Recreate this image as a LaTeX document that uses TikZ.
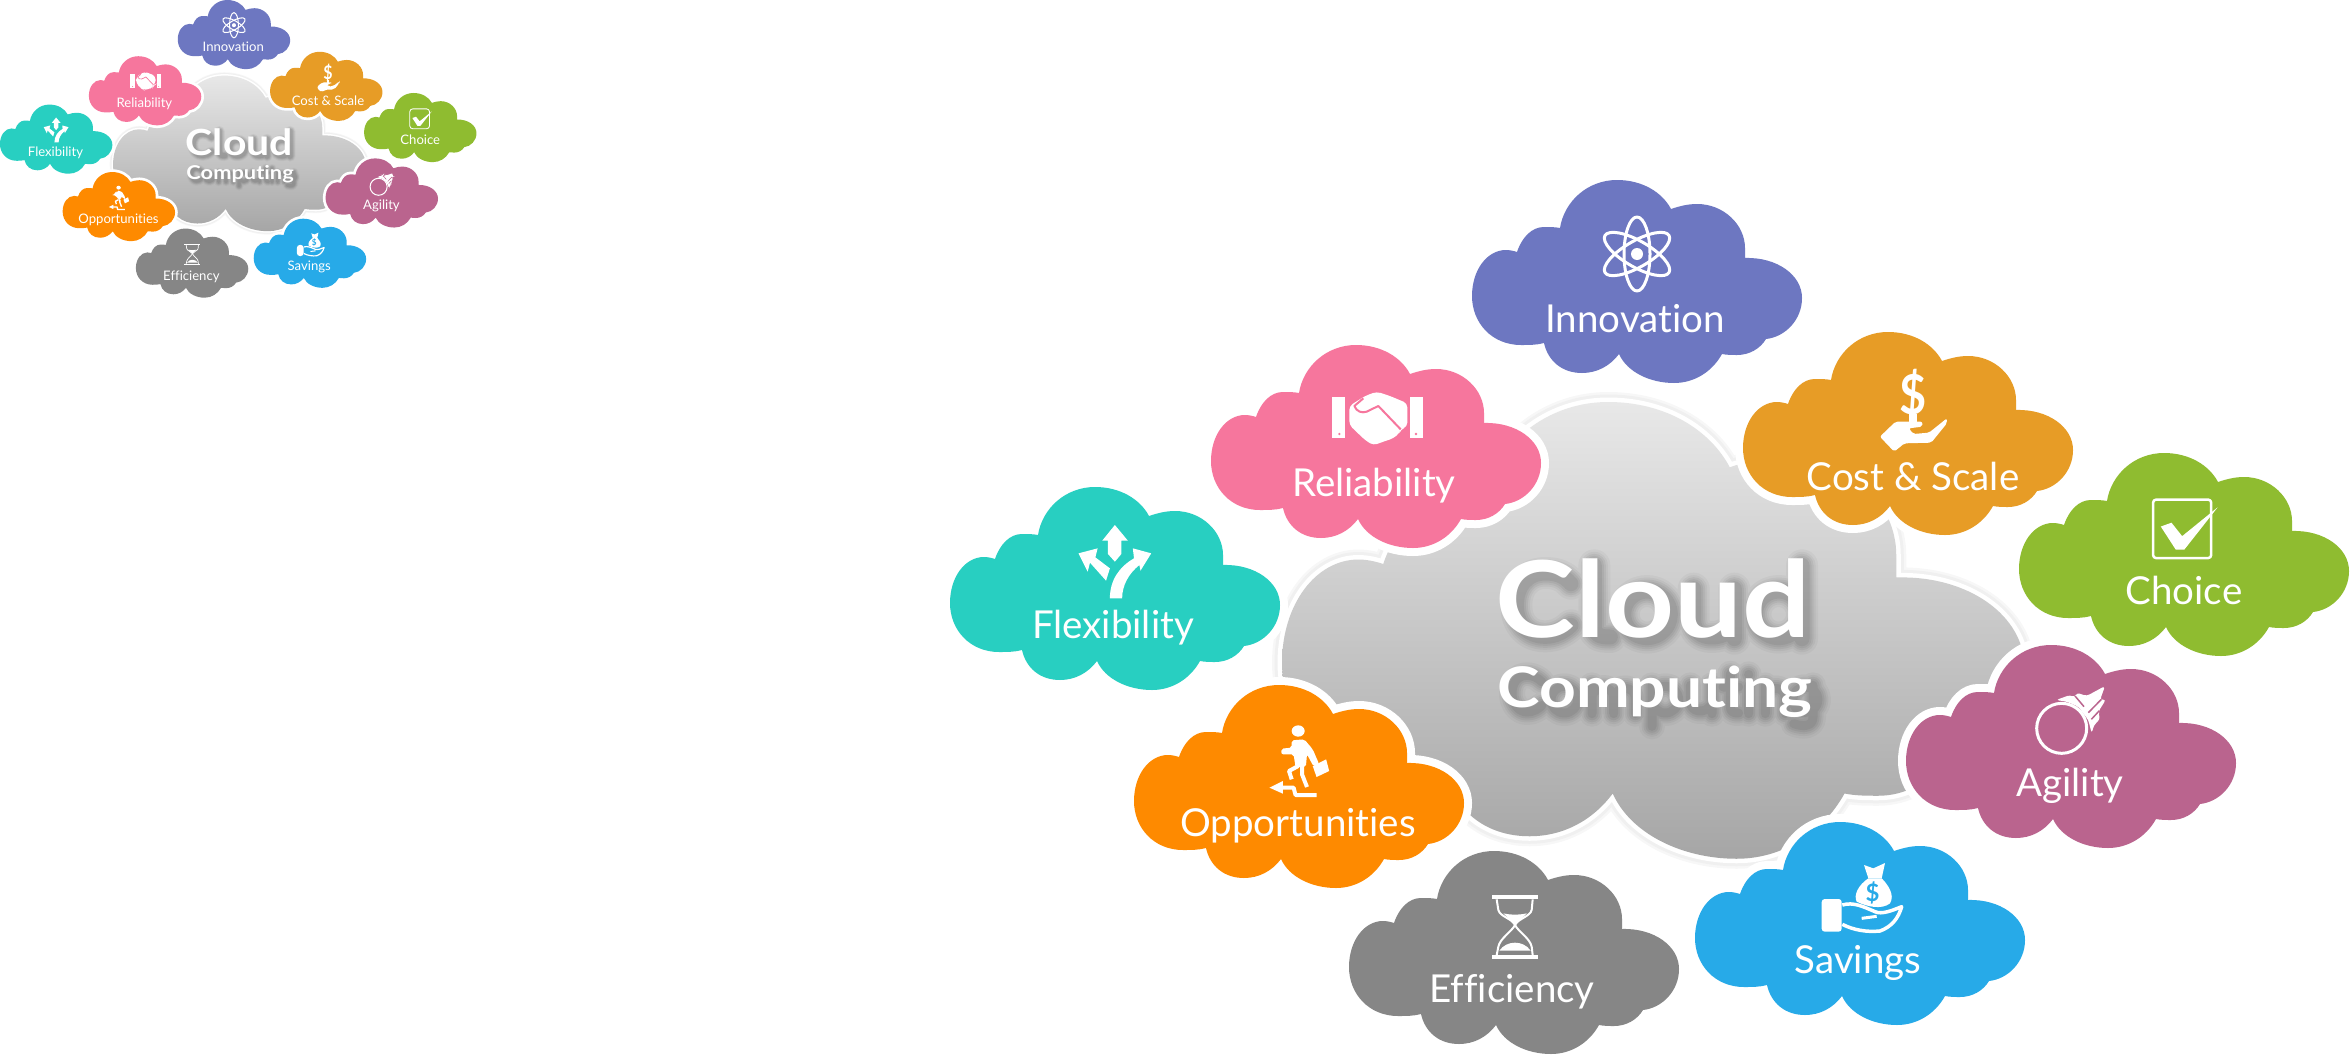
\documentclass[tikz,border=0pt]{standalone}
\usepackage{fontspec}
\setmainfont{Lato}[Ligatures=NoCommon]
\usetikzlibrary{shapes.geometric}
\definecolor{cinno}{HTML}{6D77C1}
\definecolor{creli}{HTML}{F6769D}
\definecolor{ccost}{HTML}{E79C26}
\definecolor{cchoi}{HTML}{8FBC30}
\definecolor{cagil}{HTML}{BA648E}
\definecolor{csave}{HTML}{27AAE8}
\definecolor{ceffi}{HTML}{868686}
\definecolor{coppo}{HTML}{FE8A00}
\definecolor{cflex}{HTML}{28CFC1}
\def\ds{1}
\def\pfx{b}
\tikzset{
  lw/.style={line width=(#1)*\ds*1pt},
  lbl/.style={text=white,anchor=base,inner sep=0pt,transform shape,font=\fontsize{38.5}{39}\selectfont},
  icon/.style={fill=white,draw=none},
  iconline/.style={draw=white,fill=none,lw=3,line join=round},
  ttl/.style={anchor=base,inner sep=0pt,transform shape,xscale=1.135,font=\bfseries\fontsize{106}{106}\selectfont},
  sub/.style={anchor=base,inner sep=0pt,transform shape,xscale=1.145,font=\bfseries\fontsize{56}{56}\selectfont},
}
% one outline, 330 x 203 units, used for every cloud
\def\cloudpath{(0,116) .. controls (0,90) and (15,70) .. (34,70) .. controls (38,70) and (42,71) .. (45,72)
 .. controls (50,57) and (60,47) .. (72,47) .. controls (78,47) and (83,47) .. (88,48)
 .. controls (92,22) and (115,0) .. (145,0) .. controls (170,0) and (190,12) .. (199,29)
 .. controls (208,26) and (216,24) .. (225,24) .. controls (252,24) and (273,45) .. (273,68) -- (273,78)
 .. controls (305,77) and (330,95) .. (330,118) .. controls (330,140) and (313,157) .. (294,159)
 .. controls (288,169) and (277,175) .. (265,175) .. controls (260,175) and (255,175) .. (250,174)
 .. controls (240,192) and (222,203) .. (202,203) .. controls (178,203) and (155,192) .. (147,174)
 .. controls (138,186) and (125,193) .. (110,193) .. controls (90,193) and (76,181) .. (72,163)
 .. controls (65,165) and (57,165) .. (49,165) .. controls (20,165) and (0,143) .. (0,116) -- cycle}
% soft shadow of the title, drawn as strokes
\def\shadecloud{(282,140) .. controls (260,115) and (235,108) .. (205,108) .. controls (150,108) and (118,150) .. (118,205) .. controls (118,260) and (150,298) .. (205,298) .. controls (235,298) and (260,285) .. (282,265)
 (352,85) -- (352,270) .. controls (352,295) and (370,300) .. (400,300)
 (510,232) circle [radius=70]
 (650,155) -- (650,250) .. controls (650,285) and (675,300) .. (705,300) .. controls (740,300) and (772,280) .. (772,250) (772,155) -- (772,305)
 (905,232) circle [radius=70] (975,85) -- (975,305)}
\def\shadecomp{(195,435) .. controls (180,420) and (165,415) .. (150,415) .. controls (120,415) and (105,440) .. (105,470) .. controls (105,500) and (125,525) .. (150,525) .. controls (170,525) and (185,515) .. (195,505)
 (262,488) circle [radius=40]
 (345,445) -- (345,530) (345,475) .. controls (355,450) and (405,440) .. (410,480) -- (410,530) (410,480) .. controls (420,445) and (475,445) .. (475,485) -- (475,530)
 (525,445) -- (525,568) (565,488) circle [radius=40]
 (640,445) -- (640,495) .. controls (640,525) and (685,535) .. (705,500) (705,445) -- (705,530)
 (760,410) -- (760,510) .. controls (760,525) and (770,528) .. (785,528) (738,450) -- (785,450)
 (815,445) -- (815,530) (815,412) -- (815,414)
 (865,445) -- (865,530) (865,480) .. controls (875,445) and (925,445) .. (925,485) -- (925,530)
 (985,488) circle [radius=38] (1008,445) -- (1008,540) .. controls (1008,565) and (985,572) .. (950,560)}
\newcommand{\onecloud}[8]{%
  \begin{scope}[shift={(#2,#3)}]
    \draw[white,lw=16,line join=round] \cloudpath;
    \fill[#4] \cloudpath;
    \node[lbl] (#1) at (#6,#7) {#5};
    #8
  \end{scope}}
\newcommand{\iconatom}{%
  \begin{scope}[shift={(165,74)}]
    \foreach \a in {90,30,150}{\draw[iconline,rotate=\a] (0,0) ellipse [x radius=37,y radius=13];}
    \fill[icon] (0,0) circle [radius=6];
  \end{scope}}
\newcommand{\iconhands}{%
  \begin{scope}[shift={(99,25)},scale=1/3]
    \fill[icon] (65,80) rectangle (105,205);
    \fill[icon] (300,80) rectangle (340,205);
    \fill[creli] (88,192) circle [radius=4];
    \fill[creli] (318,192) circle [radius=4];
    \fill[icon,rounded corners=4] (118,108) -- (165,78) -- (200,65) -- (240,78) -- (292,100) -- (292,170) -- (272,178) -- (268,190) -- (250,205) -- (220,215) -- (190,226) -- (165,210) -- (118,165) -- cycle;
    \draw[creli,lw=2,line join=round] (160,85) -- (133,108) .. controls (140,125) and (155,130) .. (170,125) -- (205,108) -- (272,178);
  \end{scope}}
\newcommand{\iconcost}{%
  \begin{scope}[shift={(-343,-172)},xscale=1/2.24,yscale=1/3]
    \node[anchor=center,inner sep=0pt,text=white,transform shape,xscale=2.1,yscale=3.3,font=\bfseries\fontsize{50}{50}\selectfont] (\pfx dollar) at (1150,705) {\$};
    \fill[icon] (1140,762) rectangle (1158,790);
    \fill[icon,rounded corners=2] (1075,830) -- (1110,785) -- (1170,785) -- (1170,800) -- (1140,805) -- (1150,822) -- (1185,818) -- (1225,775) -- (1225,790) -- (1190,848) -- (1130,850) -- (1107,875) -- cycle;
  \end{scope}}
\newcommand{\iconcheck}{%
  \begin{scope}[shift={(-339,-13)},xscale=1/2.34,yscale=1/2.6]
    \draw[iconline,lw=2.5,rounded corners=3] (1107,155) rectangle (1243,307);
    \fill[icon] (1125,225) -- (1150,215) -- (1175,250) -- (1258,175) -- (1180,285) -- (1160,285) -- cycle;
  \end{scope}}
\newcommand{\iconagil}{%
  \begin{scope}[shift={(114,45)},scale=1/3]
    \draw[iconline] (125,115) circle [radius=75];
    \fill[icon,rounded corners=3] (108,30) -- (150,15) -- (165,22) -- (170,8) -- (200,18) -- (255,-12) -- (240,30) -- (258,28) -- (235,65) -- (240,88) -- (222,105) -- (215,130) -- (205,90) -- (175,50) -- (140,35) -- cycle;
    \draw[cagil,lw=1.5] (165,18) -- (192,50) (244,28) -- (205,68) (238,62) -- (214,88);
  \end{scope}}
\newcommand{\iconsave}{%
  \begin{scope}[shift={(115,53)},scale=1/3]
    \fill[icon,rounded corners=3] (35,72) rectangle (95,170);
    \draw[iconline,lw=3.5] (97,90) .. controls (130,80) and (160,95) .. (195,110) .. controls (215,120) and (250,105) .. (275,95) .. controls (265,130) and (245,155) .. (210,168) .. controls (170,172) and (130,165) .. (97,148);
    \draw[iconline] (155,130) -- (200,124);
    \fill[icon] (175,10) .. controls (145,30) and (130,60) .. (140,80) .. controls (170,95) and (215,105) .. (240,85) .. controls (255,60) and (235,30) .. (215,10) -- cycle;
    \fill[icon] (162,-30) -- (190,-20) -- (225,-36) -- (215,10) -- (175,10) -- cycle;
    \node[anchor=center,inner sep=0pt,text=csave,transform shape,font=\bfseries\fontsize{72}{72}\selectfont] (\pfx bag) at (188,55) {\$};
  \end{scope}}
\newcommand{\iconglass}{%
  \begin{scope}[shift={(101,29)},scale=1/3]
    \fill[icon] (125,45) rectangle (263,58);
    \fill[icon] (125,225) rectangle (263,238);
    \draw[iconline,lw=2] (140,58) -- (145,90) .. controls (150,110) and (185,115) .. (195,135) .. controls (205,155) and (240,175) .. (245,200) -- (248,225);
    \draw[iconline,lw=2] (248,58) -- (245,90) .. controls (240,110) and (205,115) .. (195,135) .. controls (185,155) and (150,175) .. (145,200) -- (140,225);
    \fill[icon] (160,100) .. controls (180,105) and (210,105) .. (230,100) -- (195,135) -- cycle;
    \fill[icon] (148,212) .. controls (170,180) and (220,180) .. (242,212) -- cycle;
  \end{scope}}
\newcommand{\iconstair}{%
  \begin{scope}[shift={(-204,-214)},xscale=1/2.613,yscale=1/3]
    \fill[icon] (962,780) ellipse [x radius=17,y radius=17];
    \fill[icon,rounded corners=2] (945,808) -- (978,805) -- (1000,835) -- (1017,880) -- (1002,886) -- (985,850) -- (982,888) -- (955,888) -- (950,850) -- (918,850) -- (918,833) -- (945,830) -- cycle;
    \draw[iconline,lw=4] (962,885) -- (938,900) -- (945,925) (972,885) -- (972,910) -- (985,948);
    \fill[icon] (1000,885) -- (1035,865) -- (1043,900) -- (1010,918) -- cycle;
    \draw[iconline,lw=4] (915,950) -- (950,950) -- (955,972) -- (1010,972);
    \fill[icon] (887,950) -- (922,930) -- (922,968) -- cycle;
  \end{scope}}
\newcommand{\iconfork}{%
  \begin{scope}[shift={(-20,-17)},xscale=1/2.613,yscale=1/3]
    \fill[icon] (483,165) -- (517,212) -- (500,212) -- (500,252) -- (483,275) -- (465,252) -- (465,212) -- (450,212) -- cycle;
    \fill[icon] (470,385) .. controls (470,330) and (495,290) .. (533,265) -- (530,235) -- (578,250) -- (550,302) -- (547,285) .. controls (520,310) and (502,345) .. (502,385) -- cycle;
    \fill[icon] (388,250) -- (438,235) -- (432,262) -- (470,295) -- (460,332) -- (418,278) -- (412,305) -- cycle;
  \end{scope}}
% the whole figure, #1 = name prefix
\newcommand{\wholediagram}[1]{%
  \def\pfx{#1}%
  \begin{scope}[shift={(1282,402)},scale=2.25]
    \draw[black!3,lw=20,line join=round] \cloudpath;
    \draw[black!6,lw=15,line join=round] \cloudpath;
    \draw[white,lw=9,line join=round] \cloudpath;
    \shade[top color=black!9,bottom color=black!35] \cloudpath;
  \end{scope}
  \begin{scope}[shift={(1477,537)},scale=1/3]
    \foreach \ew/\op in {18/.03,13/.04,9/.05,5/.05,1/.06}{
      \draw[black,opacity=\op,lw=14+\ew,line cap=round,line join=round] \shadecloud;
      \draw[black,opacity=\op,lw=8+\ew,line cap=round,line join=round] \shadecomp;
    }
  \end{scope}
  \node[ttl,text=white] (#1cloud) at (1653,637) {Cloud};
  \node[sub,text=white] (#1computing) at (1655,707) {Computing};
  \onecloud{#1inno}{1472}{180}{cinno}{Innovation}{163}{152}{\iconatom}
  \onecloud{#1effi}{1349}{851}{ceffi}{Efficiency}{163}{151.5}{\iconglass}
  \onecloud{#1reli}{1211}{345}{creli}{Reliability}{163}{151.5}{\iconhands}
  \onecloud{#1cost}{1743}{332}{ccost}{Cost \& Scale}{170}{158}{\iconcost}
  \onecloud{#1choi}{2019}{453}{cchoi}{Choice}{165}{151.5}{\iconcheck}
  \onecloud{#1agil}{1906}{645}{cagil}{Agility}{164}{151.5}{\iconagil}
  \onecloud{#1save}{1695}{822}{csave}{Savings}{163}{151.5}{\iconsave}
  \onecloud{#1oppo}{1134}{685}{coppo}{Opportunities}{164}{151.5}{\iconstair}
  \onecloud{#1flex}{950}{487}{cflex}{Flexibility}{163}{151.5}{\iconfork}
}
\begin{document}
\begin{tikzpicture}[x=1pt,y=-1pt]
  \useasboundingbox (0,0) rectangle (2350,1055);
  \clip (0,0) rectangle (2350,1055);
  \wholediagram{b}
  \def\ds{0.3406}
  \begin{scope}[shift={(-323.6,-61.3)},scale=0.3406]
    \wholediagram{s}
  \end{scope}
\end{tikzpicture}
\end{document}
